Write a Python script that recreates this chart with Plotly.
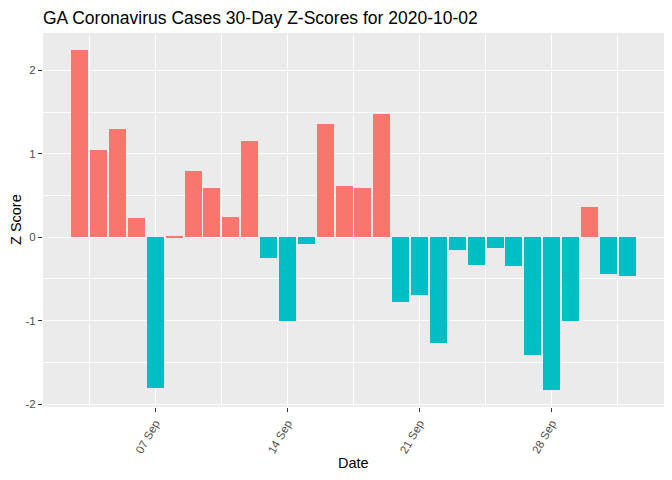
import plotly.graph_objects as go
import pandas as pd

dates = pd.date_range("2020-09-03", "2020-10-02", freq="D").strftime("%Y-%m-%d").tolist()
z_scores = [2.24, 1.04, 1.30, 0.23, -1.81, 0.01, 0.79, 0.59, 0.24, 1.15,
            -0.25, -1.00, -0.08, 1.36, 0.61, 0.59, 1.48, -0.78, -0.69, -1.27,
            -0.15, -0.33, -0.13, -0.34, -1.41, -1.83, -1.00, 0.36, -0.44, -0.46]
tick_dates = ["2020-09-07", "2020-09-14", "2020-09-21", "2020-09-28"]
tick_labels = ["07 Sep", "14 Sep", "21 Sep", "28 Sep"]

POS = "#F8766D"
NEG = "#00BFC4"
colors = [POS if v >= 0 else NEG for v in z_scores]

DAY_MS = 86400000
# page body has an 8px default margin, so the figure is 8px smaller
W, H = 664, 472
fig = go.Figure()
fig.add_trace(go.Bar(
    x=dates, y=z_scores, marker=dict(color=colors, line=dict(width=0)),
    width=[0.9 * DAY_MS] * len(dates), showlegend=False,
    hovertemplate="%{x}<br>%{y}<extra></extra>",
))

font_fam = "Liberation Sans, Arial, sans-serif"
fig.update_layout(
    width=W, height=H,
    margin=dict(l=35, r=8, t=25, b=73, autoexpand=False),
    paper_bgcolor="white", plot_bgcolor="#EBEBEB",
    font=dict(family=font_fam, color="#4D4D4D"),
    title=dict(text="GA Coronavirus Cases 30-Day Z-Scores for 2020-10-02",
               xref="container", yref="container",
               x=35 / W, xanchor="left", y=1 - 9.5 / H, yanchor="middle",
               font=dict(size=17.5, color="black", family=font_fam)),
    bargap=0,
    annotations=[
        dict(text="Date", xref="paper", yref="paper", x=0.5, y=-(463 - 406.7) / 374,
             xanchor="center", yanchor="middle", showarrow=False,
             font=dict(size=14.5, color="black", family=font_fam)),
        dict(text="Z Score", xref="paper", yref="paper", x=-(43 - 16) / 621, y=0.5,
             xanchor="center", yanchor="middle", textangle=-90, showarrow=False,
             font=dict(size=14.5, color="black", family=font_fam)),
    ],
)
fig.update_xaxes(
    type="date", automargin=False,
    range=["2020-09-01 01:19", "2020-10-03 22:41"],
    tickmode="array", tickvals=tick_dates, ticktext=tick_labels,
    tickangle=-60, tickfont=dict(size=11.5, color="#4D4D4D"),
    ticks="outside", ticklen=4, tickcolor="#333333", tickwidth=1,
    showgrid=True, gridcolor="white", gridwidth=1.3,
    minor=dict(tick0="2020-09-03 12:00", dtick=7 * DAY_MS, showgrid=True,
               gridcolor="white", gridwidth=0.7, ticks=""),
    zeroline=False, showline=False,
)
fig.update_yaxes(
    automargin=False,
    range=[-2.035, 2.448],
    tickmode="array", tickvals=[-2, -1, 0, 1, 2], ticktext=["-2", "-1", "0", "1", "2"],
    tickfont=dict(size=11.5, color="#4D4D4D"),
    ticks="outside", ticklen=4, tickcolor="#333333", tickwidth=1,
    showgrid=True, gridcolor="white", gridwidth=1.3,
    minor=dict(tickvals=[-1.5, -0.5, 0.5, 1.5], showgrid=True,
               gridcolor="white", gridwidth=0.7, ticks=""),
    zeroline=False, showline=False,
)

fig.write_html("out.html")
